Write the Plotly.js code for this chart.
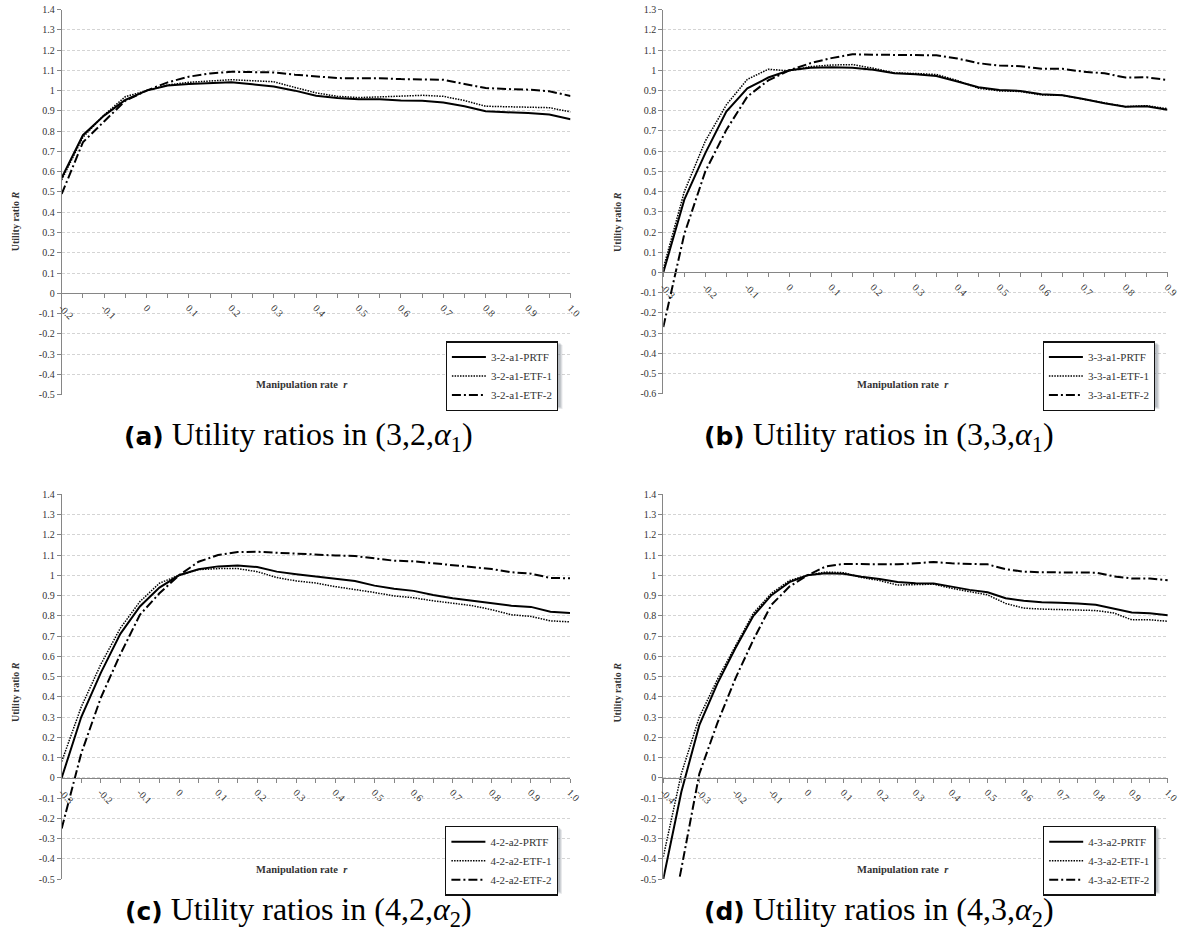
<!DOCTYPE html>
<html>
<head>
<meta charset="utf-8">
<script src="https://cdn.plot.ly/plotly-3.0.1.min.js"></script>
<style>html,body{margin:0;padding:0;background:#fff;}#chart{width:1181px;height:940px;}</style>
</head>
<body>
<div id="chart"></div>
<script>
// ---------- DATA ----------
// Panel (a) (3,2,a1)
const rA = [-0.2,-0.15,-0.1,-0.05,0,0.05,0.1,0.15,0.2,0.25,0.3,0.35,0.4,0.45,0.5,0.55,0.6,0.65,0.7,0.75,0.8,0.85,0.9,0.95,1.0];
const prtfA = [0.57,0.78,0.877,0.954,1.0,1.025,1.033,1.038,1.041,1.031,1.02,1.0,0.975,0.964,0.957,0.957,0.951,0.95,0.941,0.923,0.898,0.893,0.89,0.882,0.859];
const etf1A = [0.56,0.77,0.88,0.97,1.0,1.028,1.041,1.048,1.054,1.049,1.044,1.016,0.989,0.972,0.966,0.969,0.972,0.977,0.972,0.951,0.923,0.921,0.92,0.916,0.895];
const etf2A = [0.49,0.745,0.848,0.95,1.0,1.041,1.069,1.085,1.093,1.093,1.09,1.079,1.069,1.062,1.061,1.061,1.057,1.056,1.054,1.033,1.013,1.008,1.005,0.997,0.974];
const namesA = ["3-2-a1-PRTF","3-2-a1-ETF-1","3-2-a1-ETF-2"];
const xTickValsA = [-0.2,-0.1,0,0.1,0.2,0.3,0.4,0.5,0.6,0.7,0.8,0.9,1.0];
const xTickTextA = ["-0.2","-0.1","0","0.1","0.2","0.3","0.4","0.5","0.6","0.7","0.8","0.9","1.0"];

// Panel (b) (3,3,a1)
const rB = [-0.3,-0.25,-0.2,-0.15,-0.1,-0.05,0,0.05,0.1,0.15,0.2,0.25,0.3,0.35,0.4,0.45,0.5,0.55,0.6,0.65,0.7,0.75,0.8,0.85,0.9];
const prtfB = [0,0.36,0.59,0.796,0.911,0.964,1.0,1.012,1.015,1.013,1.003,0.985,0.98,0.972,0.944,0.916,0.903,0.898,0.881,0.876,0.858,0.837,0.82,0.822,0.805];
const etf1B = [0.02,0.40,0.65,0.829,0.955,1.005,0.997,1.018,1.026,1.028,1.01,0.987,0.984,0.979,0.949,0.911,0.898,0.895,0.878,0.876,0.857,0.838,0.82,0.825,0.81];
const etf2B = [-0.27,0.19,0.5,0.705,0.87,0.95,1.0,1.035,1.06,1.079,1.077,1.076,1.072,1.074,1.058,1.035,1.023,1.02,1.007,1.007,0.993,0.985,0.964,0.965,0.952];
const namesB = ["3-3-a1-PRTF","3-3-a1-ETF-1","3-3-a1-ETF-2"];
const xTickValsB = [-0.3,-0.2,-0.1,0,0.1,0.2,0.3,0.4,0.5,0.6,0.7,0.8,0.9];
const xTickTextB = ["-0.3","-0.2","-0.1","0","0.1","0.2","0.3","0.4","0.5","0.6","0.7","0.8","0.9"];

// Panel (c) (4,2,a2)
const rC = [-0.3,-0.25,-0.2,-0.15,-0.1,-0.05,0,0.05,0.1,0.15,0.2,0.25,0.3,0.35,0.4,0.45,0.5,0.55,0.6,0.65,0.7,0.75,0.8,0.85,0.9,0.95,1.0];
const prtfC = [0,0.3,0.518,0.711,0.846,0.939,1.0,1.03,1.044,1.048,1.041,1.018,1.005,0.993,0.984,0.972,0.949,0.934,0.923,0.903,0.887,0.875,0.86,0.85,0.844,0.82,0.814];
const etf1C = [0.08,0.35,0.56,0.739,0.87,0.961,1.0,1.028,1.033,1.033,1.018,0.989,0.972,0.962,0.944,0.931,0.915,0.898,0.889,0.874,0.862,0.85,0.83,0.805,0.797,0.775,0.77];
const etf2C = [-0.25,0.12,0.395,0.61,0.805,0.911,1.0,1.067,1.1,1.115,1.116,1.111,1.105,1.102,1.098,1.095,1.082,1.072,1.069,1.059,1.048,1.039,1.031,1.015,1.008,0.987,0.985];
const namesC = ["4-2-a2-PRTF","4-2-a2-ETF-1","4-2-a2-ETF-2"];
const xTickValsC = [-0.3,-0.2,-0.1,0,0.1,0.2,0.3,0.4,0.5,0.6,0.7,0.8,0.9,1.0];
const xTickTextC = ["-0.3","-0.2","-0.1","0","0.1","0.2","0.3","0.4","0.5","0.6","0.7","0.8","0.9","1.0"];

// Panel (d) (4,3,a2)
const rD = [-0.4,-0.35,-0.3,-0.25,-0.2,-0.15,-0.1,-0.05,0,0.05,0.1,0.15,0.2,0.25,0.3,0.35,0.4,0.45,0.5,0.55,0.6,0.65,0.7,0.75,0.8,0.85,0.9,0.95,1.0];
const prtfD = [-0.5,-0.07,0.26,0.465,0.64,0.8,0.902,0.966,1.0,1.01,1.008,0.993,0.982,0.967,0.961,0.959,0.944,0.928,0.916,0.887,0.874,0.867,0.864,0.861,0.854,0.836,0.816,0.812,0.803];
const etf1D = [-0.39,0.02,0.3,0.485,0.65,0.813,0.911,0.974,1.0,1.016,1.013,0.989,0.974,0.952,0.954,0.956,0.936,0.92,0.903,0.861,0.838,0.833,0.83,0.83,0.826,0.814,0.78,0.78,0.773];
const etf2D = [-0.9,-0.45,0.02,0.27,0.49,0.682,0.854,0.944,1.0,1.043,1.056,1.056,1.054,1.054,1.059,1.066,1.059,1.056,1.054,1.03,1.018,1.015,1.015,1.015,1.013,0.995,0.984,0.984,0.975];
const namesD = ["4-3-a2-PRTF","4-3-a2-ETF-1","4-3-a2-ETF-2"];
const xTickValsD = [-0.4,-0.3,-0.2,-0.1,0,0.1,0.2,0.3,0.4,0.5,0.6,0.7,0.8,0.9,1.0];
const xTickTextD = ["-0.4","-0.3","-0.2","-0.1","0","0.1","0.2","0.3","0.4","0.5","0.6","0.7","0.8","0.9","1.0"];

// y ticks
const yTickVals1 = [1.4,1.3,1.2,1.1,1,0.9,0.8,0.7,0.6,0.5,0.4,0.3,0.2,0.1,0,-0.1,-0.2,-0.3,-0.4,-0.5];
const yTickText1 = ["1.4","1.3","1.2","1.1","1","0.9","0.8","0.7","0.6","0.5","0.4","0.3","0.2","0.1","0","-0.1","-0.2","-0.3","-0.4","-0.5"];
const yTickVals2 = [1.3,1.2,1.1,1,0.9,0.8,0.7,0.6,0.5,0.4,0.3,0.2,0.1,0,-0.1,-0.2,-0.3,-0.4,-0.5,-0.6];
const yTickText2 = ["1.3","1.2","1.1","1","0.9","0.8","0.7","0.6","0.5","0.4","0.3","0.2","0.1","0","-0.1","-0.2","-0.3","-0.4","-0.5","-0.6"];

const captions = [
  "(3,2,<i>α</i><sub>1</sub>)",
  "(3,3,<i>α</i><sub>1</sub>)",
  "(4,2,<i>α</i><sub>2</sub>)",
  "(4,3,<i>α</i><sub>2</sub>)"
];
const captionLabels = ["(a)","(b)","(c)","(d)"];
const yTitle = "Utility ratio <i>R</i>";
const xTitle = "Manipulation rate  <i>r</i>";

// ---------- LAYOUT HELPERS ----------
const W = 1181, H = 940;
const px = v => v / W;
const py = v => 1 - v / H;

const SERIF = "Liberation Serif, Times New Roman, serif";
const AXC = "#868686";
const GRIDC = "#d4d4d4";
const TXT = "#333333";

// pixel boxes of plot areas [left, right, top, bottom]
const boxes = {
  a: [61.7, 570.5, 9.6, 394.6],
  b: [663.3, 1167.5, 9.6, 393.8],
  c: [61.7, 570.0, 494.3, 879.0],
  d: [663.3, 1167.8, 494.3, 879.0]
};
const panels = [
  {k:"a", r:rA, s:[prtfA,etf1A,etf2A], names:namesA, xr:[-0.2,1.0], yr:[-0.5,1.4], xtv:xTickValsA, xtt:xTickTextA, ytv:yTickVals1, ytt:yTickText1},
  {k:"b", r:rB, s:[prtfB,etf1B,etf2B], names:namesB, xr:[-0.3,0.9], yr:[-0.6,1.3], xtv:xTickValsB, xtt:xTickTextB, ytv:yTickVals2, ytt:yTickText2},
  {k:"c", r:rC, s:[prtfC,etf1C,etf2C], names:namesC, xr:[-0.3,1.0], yr:[-0.5,1.4], xtv:xTickValsC, xtt:xTickTextC, ytv:yTickVals1, ytt:yTickText1},
  {k:"d", r:rD, s:[prtfD,etf1D,etf2D], names:namesD, xr:[-0.4,1.0], yr:[-0.5,1.4], xtv:xTickValsD, xtt:xTickTextD, ytv:yTickVals1, ytt:yTickText1}
];

const lineStyles = [
  {color:"#000", width:2, dash:"solid"},
  {color:"#000", width:1.5, dash:"1.5px,1.2px"},
  {color:"#000", width:2, dash:"9px,3px,2px,3px"}
];

const data = [];
const layout = {
  width: W, height: H,
  margin: {l:0, r:0, t:0, b:0},
  paper_bgcolor: "#fff", plot_bgcolor: "rgba(0,0,0,0)",
  showlegend: true,
  annotations: [],
  shapes: []
};

const LEG_W = 112, LEG_H = 64;

panels.forEach((p, i) => {
  const n = i + 1;
  const sfx = n === 1 ? "" : String(n);
  const xa = "x" + sfx, ya = "y" + sfx;
  const legName = n === 1 ? "legend" : "legend" + n;
  const b = boxes[p.k];
  const xdom = [px(b[0]), px(b[1])];
  const ydom = [py(b[3]), py(b[2])];
  const zeroFrac = (0 - p.yr[0]) / (p.yr[1] - p.yr[0]);
  const zeroPos = ydom[0] + zeroFrac * (ydom[1] - ydom[0]);

  p.s.forEach((vals, j) => {
    data.push({
      type: "scatter", mode: "lines",
      x: p.r, y: vals, name: p.names[j],
      xaxis: xa, yaxis: ya, legend: legName,
      line: lineStyles[j],
      hoverinfo: "skip"
    });
  });

  layout["xaxis" + sfx] = {
    domain: xdom, range: p.xr, anchor: "free", position: zeroPos,
    showline: true, linecolor: AXC, linewidth: 1,
    ticks: "outside", ticklen: 4, tickcolor: AXC, tickwidth: 1,
    tickvals: p.xtv, ticktext: p.xtt, tickangle: 45,
    tickfont: {family: SERIF, size: 10, color: TXT},
    minor: {dtick: 0.05, tick0: p.xr[0], ticks: "outside", ticklen: 4, tickcolor: AXC, tickwidth: 1, showgrid: false},
    showgrid: false, zeroline: false, fixedrange: true
  };
  layout["yaxis" + sfx] = {
    domain: ydom, range: p.yr, anchor: xa,
    showline: true, linecolor: AXC, linewidth: 1,
    ticks: "outside", ticklen: 4, tickcolor: AXC, tickwidth: 1,
    tickvals: p.ytv, ticktext: p.ytt,
    tickfont: {family: SERIF, size: 10, color: TXT},
    showgrid: true, gridcolor: GRIDC, griddash: "3px,2px", gridwidth: 1,
    zeroline: false, fixedrange: true
  };

  // legend box
  const lxRight = b[1] - 12, ly = b[2] + 331.5;
  layout[legName] = {
    x: px(lxRight), y: py(ly), xanchor: "right", yanchor: "top",
    bgcolor: "#fff", bordercolor: "#111", borderwidth: 1.4,
    font: {family: SERIF, size: 11, color: "#333"},
    itemwidth: 34, tracegroupgap: 0, traceorder: "normal",
    itemclick: false, itemdoubleclick: false
  };
  // soft drop shadow behind legend
  const left = lxRight - LEG_W;
  [[4, 0.16], [3, 0.2], [2, 0.24]].forEach(([o, a]) => {
    layout.shapes.push({
      type: "rect", xref: "paper", yref: "paper", layer: "above",
      x0: px(left + o), x1: px(lxRight + o), y0: py(ly + LEG_H + o), y1: py(ly + o),
      fillcolor: "rgba(110,120,130," + a + ")", line: {width: 0}
    });
  });

  // axis titles
  layout.annotations.push({
    xref: "paper", yref: "paper", x: px(b[0] - 46), y: py(b[2] + (p.k === "a" || p.k === "b" ? 212 : 198)),
    text: "<b>" + yTitle + "</b>", textangle: -90, showarrow: false,
    font: {family: SERIF, size: 10, color: TXT}, xanchor: "center", yanchor: "middle"
  });
  layout.annotations.push({
    xref: "paper", yref: "paper", x: px(b[0] + 240), y: py(b[2] + 375),
    text: "<b>" + xTitle + "</b>", showarrow: false,
    font: {family: SERIF, size: 10.5, color: TXT}, xanchor: "center", yanchor: "middle"
  });
  // caption
  const capX = (p.k === "a" || p.k === "c") ? 298 : 879;
  const capY = (p.k === "a" || p.k === "b") ? 436 : 911;
  layout.annotations.push({
    xref: "paper", yref: "paper", x: px(capX), y: py(capY),
    text: '<span style="font-family:DejaVu Sans;font-weight:bold;font-size:25px">' + captionLabels[i] + '</span> Utility ratios in ' + captions[i],
    showarrow: false, font: {family: SERIF, size: 32, color: "#000"},
    xanchor: "center", yanchor: "middle"
  });
});

Plotly.newPlot("chart", data, layout, {staticPlot: true, displayModeBar: false});
</script>
</body>
</html>
